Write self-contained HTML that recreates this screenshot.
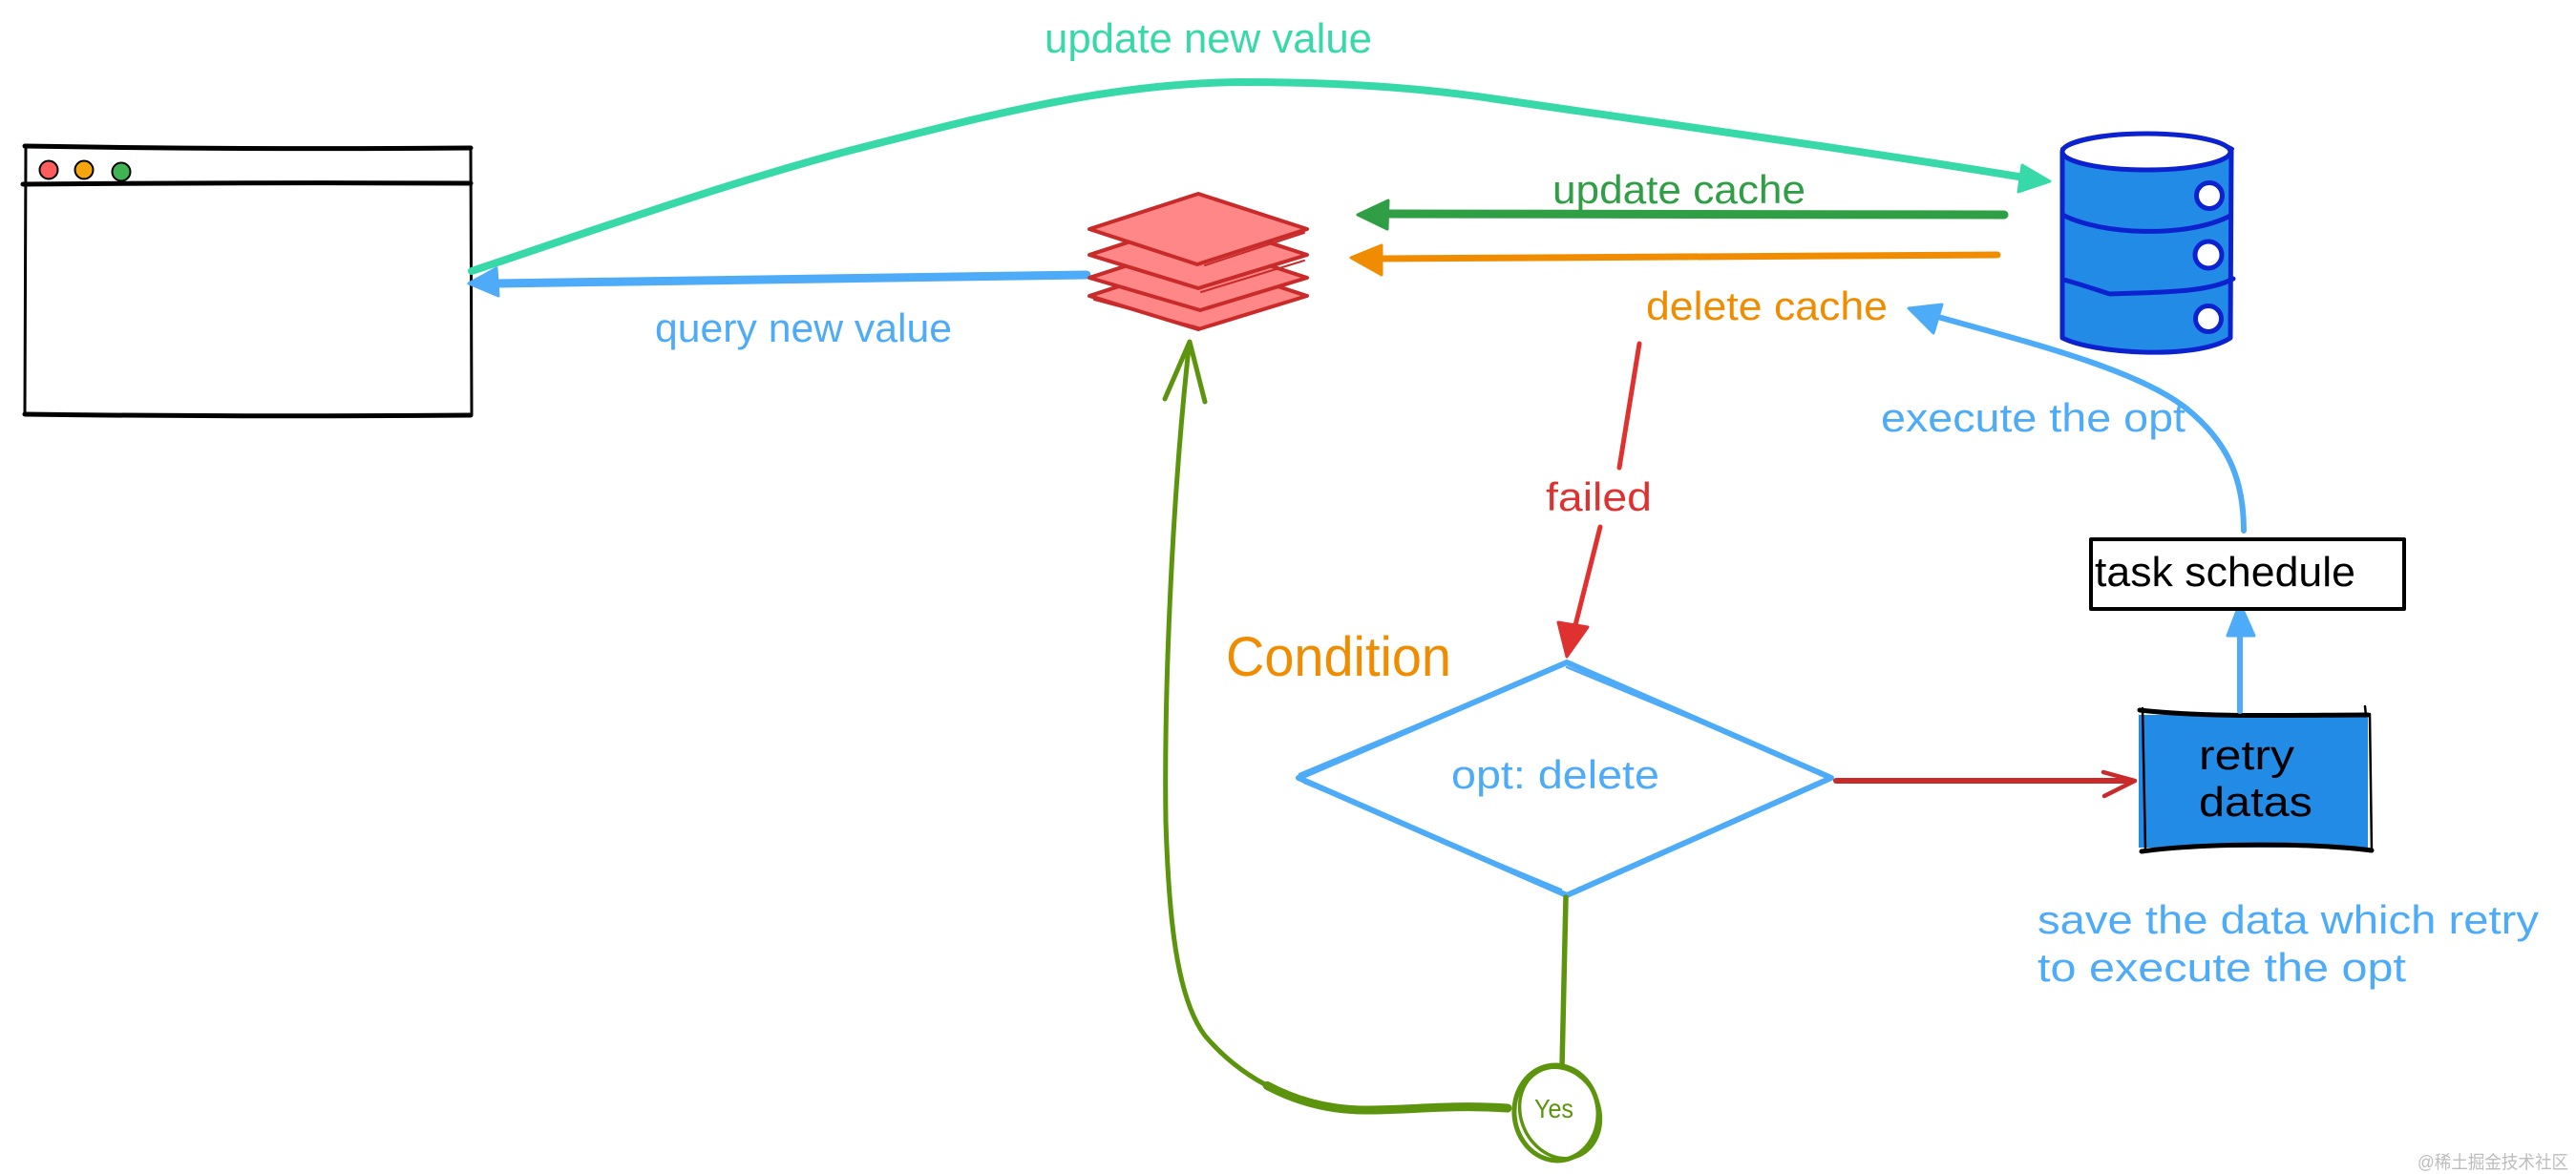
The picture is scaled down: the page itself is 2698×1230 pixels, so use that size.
<!DOCTYPE html>
<html><head><meta charset="utf-8"><style>
html,body{margin:0;padding:0;background:#fff}
svg{display:block}
text{font-family:"Liberation Sans","Noto Sans CJK SC",sans-serif}
</style></head><body>
<svg xmlns="http://www.w3.org/2000/svg" width="2698" height="1230" viewBox="0 0 2698 1230" fill="none" stroke-linecap="round" stroke-linejoin="round">
<rect width="2698" height="1230" fill="#fff"/>

<!-- browser window -->
<g stroke="#000">
<path d="M26 153 Q260 157 493 155 M24 193 Q260 191 493 192 M26 434 Q260 437 493 435" stroke-width="5"/>
<path d="M27 155 L26 434 M493 155 L494 434" stroke-width="3"/>
</g>
<g stroke="#000" stroke-width="2">
<circle cx="51" cy="178" r="9.5" fill="#ff5c5c"/>
<circle cx="88" cy="178" r="9.5" fill="#f5a60c"/>
<circle cx="127" cy="180" r="9.5" fill="#40b455"/>
</g>

<!-- teal curve -->
<path d="M494 284 C620 242 760 192 893 157 C1030 122 1160 87 1300 86 C1400 86 1490 92 1568 104 C1760 132 1950 158 2120 186" stroke="#38d9a9" stroke-width="8"/>
<path d="M2118 173 L2147 190 L2114 201 Z" fill="#38d9a9" stroke="#38d9a9" stroke-width="3"/>

<!-- blue query arrow -->
<path d="M1138 288 L520 297" stroke="#4dabf7" stroke-width="9"/>
<path d="M491 297 L520 281 L522 310 Z" fill="#4dabf7" stroke="#4dabf7" stroke-width="3"/>

<!-- stack -->
<g fill="#ff8787" stroke="#c92a2a" stroke-width="4">
<path d="M1141 310 L1255 273 L1369 310 L1255 345 Z"/>
<path d="M1141 291 L1255 254 L1369 291 L1257 325 Z"/>
<path d="M1141 267 L1255 230 L1369 267 L1255 302 Z"/>
<path d="M1141 240 L1255 203 L1369 240 L1254 277 Z"/>
</g>
<path d="M1146 314 L1255 343 M1258 306 L1366 273 M1262 278 L1366 244" stroke="#c92a2a" stroke-width="2"/>

<!-- green arrow up to stack -->
<path d="M1579 1161 C1520 1157 1480 1163 1430 1163 C1360 1163 1300 1130 1262 1085 C1232 1045 1224 960 1221 860 C1219 720 1228 520 1245 365" stroke="#5c940d" stroke-width="5"/>
<path pathLength="100" stroke-dasharray="24 200" d="M1579 1161 C1520 1157 1480 1163 1430 1163 C1360 1163 1300 1130 1262 1085 C1232 1045 1224 960 1221 860 C1219 720 1228 520 1245 365" stroke="#5c940d" stroke-width="9"/>
<path d="M1246 358 L1220 418 M1246 358 L1262 421" stroke="#5c940d" stroke-width="5"/>

<!-- update cache arrow -->
<path d="M2099 225 L1452 224" stroke="#2f9e44" stroke-width="9"/>
<path d="M1422 225 L1454 210 L1453 240 Z" fill="#2f9e44" stroke="#2f9e44" stroke-width="3"/>

<!-- delete cache arrow -->
<path d="M2092 267 L1445 271" stroke="#f08c00" stroke-width="7"/>
<path d="M1415 270 L1447 257 L1447 288 Z" fill="#f08c00" stroke="#f08c00" stroke-width="3"/>

<!-- database -->
<g stroke="#0d22cf" stroke-width="5">
<path d="M2160 160 L2160 354 C2190 370 2300 378 2336 354 L2337 158 Z" fill="#228be6"/>
<ellipse cx="2248" cy="159" rx="88" ry="19" fill="#fff"/>
<path d="M2160 156 C2190 136 2300 134 2338 156" stroke-width="4"/>
<path d="M2160 225 C2200 246 2290 250 2336 226 M2161 293 C2180 298 2200 305 2210 308 C2250 306 2310 308 2339 292" stroke-width="5"/>
<circle cx="2314" cy="205" r="13.5" fill="#fff"/>
<circle cx="2313" cy="267" r="14" fill="#fff"/>
<circle cx="2313" cy="334" r="13.5" fill="#fff"/>
</g>

<!-- execute arrow -->
<path d="M2350 556 C2350 500 2332 462 2290 428 C2240 388 2130 360 2026 331" stroke="#4dabf7" stroke-width="6"/>
<path d="M1999 323 L2034 319 L2025 349 Z" fill="#4dabf7" stroke="#4dabf7" stroke-width="3"/>

<!-- failed arrow -->
<path d="M1717 360 L1696 490 M1676 552 L1650 655" stroke="#e03131" stroke-width="5"/>
<path d="M1641 688 L1632 652 L1663 657 Z" fill="#e03131" stroke="#e03131" stroke-width="3"/>

<!-- decision -->
<g stroke="#4dabf7" stroke-width="6">
<path d="M1641 694 L1918 815 L1641 938 L1360 815 Z"/>
<path d="M1641 699 L1914 812 M1361 811 L1641 694 M1366 820 L1635 932" stroke-width="2.5"/>
</g>

<!-- red to retry -->
<path d="M1923 818 L2232 818" stroke="#c92a2a" stroke-width="6"/>
<path d="M2203 809 L2236 818 L2204 834" stroke="#c92a2a" stroke-width="4.5"/>

<!-- retry box -->
<rect x="2240" y="749" width="240" height="139" fill="#228be6"/>
<path d="M2241 744 C2310 752 2410 749 2480 749 M2243 892 C2310 883 2420 883 2484 891" stroke="#000" stroke-width="5"/>
<path d="M2244 742 L2247 890 M2482 748 L2484 892 M2477 740 L2478 750" stroke="#000" stroke-width="2.5"/>

<!-- blue up arrow -->
<path d="M2346 745 L2346 665" stroke="#4dabf7" stroke-width="6"/>
<path d="M2346 632 L2333 666 L2361 666 Z" fill="#4dabf7" stroke="#4dabf7" stroke-width="3"/>

<!-- task schedule -->
<rect x="2190" y="565" width="328" height="73" stroke="#000" stroke-width="4" fill="#fff"/>

<!-- yes line and circle -->
<path d="M1640 940 L1636 1118" stroke="#5c940d" stroke-width="5.5"/>
<g stroke="#5c940d" stroke-width="5">
<ellipse cx="1630" cy="1166" rx="44" ry="50" transform="rotate(-6 1630 1166)"/>
<ellipse cx="1634" cy="1166" rx="41" ry="49" transform="rotate(-24 1634 1166)" stroke-width="3.5"/>
</g>

<!-- labels -->
<text x="1094" y="55" font-size="44" textLength="343" lengthAdjust="spacingAndGlyphs" fill="#38d9a9">update new value</text>
<g fill="#4dabf7">
<text x="686" y="358" font-size="42" textLength="311" lengthAdjust="spacingAndGlyphs">query new value</text>
<text x="1970" y="452" font-size="42" textLength="319" lengthAdjust="spacingAndGlyphs">execute the opt</text>
<text x="1520" y="826" font-size="42" textLength="218" lengthAdjust="spacingAndGlyphs">opt: delete</text>
<text x="2134" y="978" font-size="42" textLength="525" lengthAdjust="spacingAndGlyphs">save the data which retry</text>
<text x="2134" y="1028" font-size="42" textLength="386" lengthAdjust="spacingAndGlyphs">to execute the opt</text>
</g>
<text x="1626" y="213" font-size="42" textLength="265" lengthAdjust="spacingAndGlyphs" fill="#2f9e44">update cache</text>
<text x="1724" y="335" font-size="42" textLength="253" lengthAdjust="spacingAndGlyphs" fill="#f08c00">delete cache</text>
<text x="1619" y="535" font-size="42" textLength="111" lengthAdjust="spacingAndGlyphs" fill="#e03131">failed</text>
<text x="1284" y="708" font-size="58" textLength="236" lengthAdjust="spacingAndGlyphs" fill="#f08c00">Condition</text>
<text x="2303" y="806" font-size="44" textLength="100" lengthAdjust="spacingAndGlyphs" fill="#000">retry</text>
<text x="2303" y="855" font-size="44" textLength="119" lengthAdjust="spacingAndGlyphs" fill="#000">datas</text>
<text x="2194" y="614" font-size="44" textLength="273" lengthAdjust="spacingAndGlyphs" fill="#000">task schedule</text>
<text x="1607" y="1171" font-size="28" textLength="41" lengthAdjust="spacingAndGlyphs" fill="#5c940d">Yes</text>
<text x="2532" y="1224" font-size="19" textLength="158" lengthAdjust="spacingAndGlyphs" fill="#bdbdbd">@稀土掘金技术社区</text>
</svg>
</body></html>
